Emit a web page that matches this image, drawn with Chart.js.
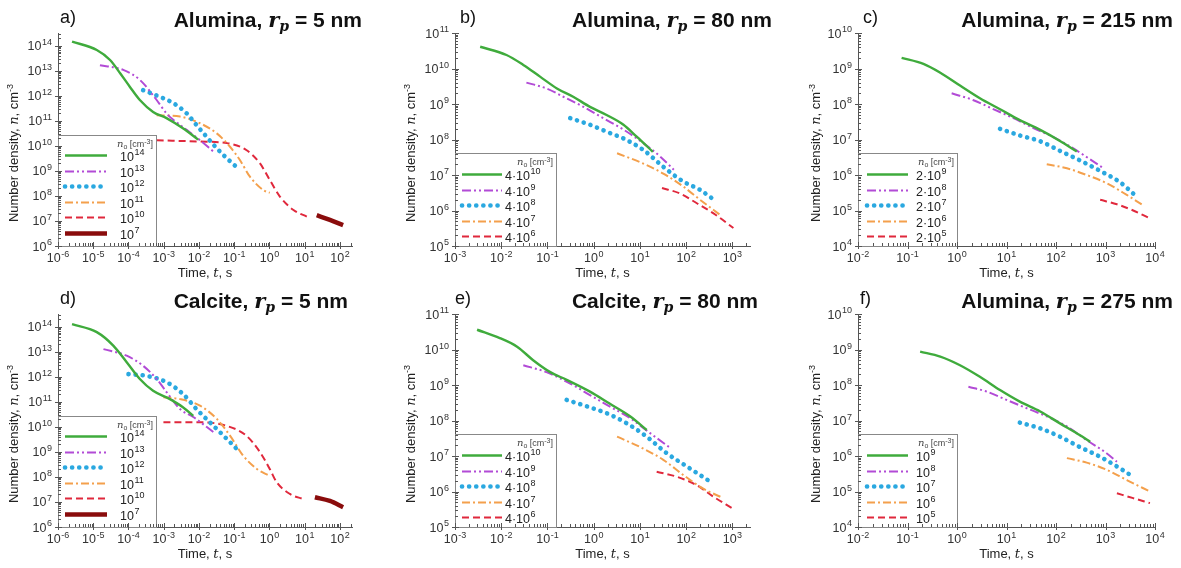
<!DOCTYPE html>
<html lang="en">
<head>
<meta charset="UTF-8">
<title>Number density vs time</title>
<style>
  body { margin: 0; background: #fff; font-family: Arial, 'Liberation Sans', sans-serif; }
  #fig { position: relative; width: 1181px; height: 568px; overflow: hidden; background: #fff; }
  #fig canvas { position: absolute; }
  .tag { position: absolute; font-size: 18px; color: #111; z-index: 2; line-height: 20px; }
  .ttl { position: absolute; font-size: 21px; font-weight: bold; color: #111; white-space: nowrap; z-index: 2; line-height: 24px; }
  .ttl i { font-family: 'DejaVu Serif', 'Liberation Serif', serif; font-style: italic; }
  .ttl sub { font-size: 14px; vertical-align: -4px; line-height: 0; }
</style>
</head>
<body>
<div id="fig">
  <div class="tag" style="left:60px;top:7px">a)</div>
  <div class="ttl" style="right:819px;top:8px">Alumina, <i>r<sub>p</sub></i> = 5 nm</div>
  <div class="tag" style="left:460px;top:7px">b)</div>
  <div class="ttl" style="right:409px;top:8px">Alumina, <i>r<sub>p</sub></i> = 80 nm</div>
  <div class="tag" style="left:863px;top:7px">c)</div>
  <div class="ttl" style="right:8px;top:8px">Alumina, <i>r<sub>p</sub></i> = 215 nm</div>
  <div class="tag" style="left:60px;top:288px">d)</div>
  <div class="ttl" style="right:833px;top:289px">Calcite, <i>r<sub>p</sub></i> = 5 nm</div>
  <div class="tag" style="left:455px;top:288px">e)</div>
  <div class="ttl" style="right:423px;top:289px">Calcite, <i>r<sub>p</sub></i> = 80 nm</div>
  <div class="tag" style="left:860px;top:288px">f)</div>
  <div class="ttl" style="right:8px;top:289px">Alumina, <i>r<sub>p</sub></i> = 275 nm</div>
</div>

<script src="https://cdn.jsdelivr.net/npm/chart.js"></script>
<script>
  // ---- data: time t [s] and number density n [cm^-3] ----

  // a) Alumina, rp = 5 nm
  const a_t1 = [2.5e-6, 1.26e-5, 3.0e-5, 5.8e-5, 1.1e-4, 2.1e-4, 5.0e-4, 1.2e-3, 3.5e-3, 9.5e-3];
  const a_n1 = [1.5e14, 6.9e13, 2.75e13, 8.1e12, 2.3e12, 6.9e11, 2.3e11, 1.3e11, 5.1e10, 1.8e10];
  const a_t2 = [1.55e-5, 7.1e-5, 2.1e-4, 6.3e-4, 1.2e-3, 1.9e-3, 4.5e-3, 1.07e-2, 2.6e-2];
  const a_n2 = [1.7e13, 1.1e13, 4.4e12, 6.9e11, 2.0e11, 1.1e11, 4.4e10, 1.7e10, 5.9e9];
  const a_t3 = [2.6e-4, 7.8e-4, 1.9e-3, 4.5e-3, 8.5e-3, 1.66e-2, 3.2e-2, 6.2e-2, 0.145];
  const a_n3 = [1.7e12, 9.3e11, 5.1e11, 2.0e11, 6.9e10, 2.3e10, 8.1e9, 3.2e9, 1.1e9];
  const a_t4 = [6.3e-4, 2.9e-3, 1.07e-2, 3.2e-2, 7.6e-2, 0.145, 0.28, 0.68, 1.02];
  const a_n4 = [1.7e11, 1.5e11, 8.1e10, 3.2e10, 9.3e9, 2.75e9, 5.9e8, 1.7e8, 1.35e8];
  const a_t5 = [6.3e-4, 1.07e-2, 6.2e-2, 0.22, 0.54, 1.02, 2.0, 4.8, 11.5];
  const a_n5 = [1.7e10, 1.5e10, 1.3e10, 6.9e9, 2.0e9, 4.4e8, 9.3e7, 2.75e7, 1.5e7];
  const a_t6 = [22, 52, 123];
  const a_n6 = [1.7e7, 1.1e7, 6.9e6];

  // b) Alumina, rp = 80 nm
  const b_t1 = [3.5e-3, 1.3e-2, 3.0e-2, 6.9e-2, 0.16, 0.36, 0.83, 1.9, 4.4, 8.5, 19];
  const b_n1 = [4.1e10, 2.4e10, 1.26e10, 5.9e9, 2.75e9, 1.6e9, 8.3e8, 4.9e8, 2.6e8, 1.2e8, 4.5e7];
  const b_t2 = [3.5e-2, 9.5e-2, 0.22, 0.60, 1.6, 4.4, 12, 27.5, 54];
  const b_n2 = [4.0e9, 2.75e9, 1.6e9, 8.3e8, 4.0e8, 1.9e8, 7.8e7, 3.3e7, 1.4e7];
  const b_t3 = [0.31, 0.83, 1.9, 4.4, 12, 32, 87, 200, 363];
  const b_n3 = [4.0e8, 2.6e8, 1.66e8, 1.07e8, 5.0e7, 1.7e7, 6.5e6, 3.8e6, 2.2e6];
  const b_t4 = [3.2, 10, 32, 87, 200, 550];
  const b_n4 = [4.1e7, 2.3e7, 1.1e7, 4.7e6, 2.0e6, 7.4e5];
  const b_t5 = [30, 74, 170, 390, 1050];
  const b_n5 = [4.3e6, 3.0e6, 1.6e6, 8.3e5, 3.2e5];

  // c) Alumina, rp = 215 nm
  const c_t1 = [0.076, 0.21, 0.46, 1.15, 2.9, 7.4, 18.6, 48, 120, 263];
  const c_n1 = [2.0e9, 1.35e9, 7.6e8, 3.3e8, 1.45e8, 7.1e7, 3.5e7, 1.86e7, 9.1e6, 4.6e6];
  const c_t2 = [0.78, 2.1, 5.4, 13.8, 35, 89, 224, 490, 910];
  const c_n2 = [2.0e8, 1.3e8, 7.2e7, 4.0e7, 2.1e7, 1.17e7, 5.6e6, 2.75e6, 1.55e6];
  const c_t3 = [7.4, 18.6, 48, 120, 300, 780, 1950, 3630];
  const c_n3 = [2.0e7, 1.3e7, 8.9e6, 4.8e6, 2.6e6, 1.3e6, 6.3e5, 3.0e5];
  const c_t4 = [65, 166, 417, 1050, 2690, 5750];
  const c_n4 = [2.0e6, 1.55e6, 1.0e6, 5.9e5, 2.75e5, 1.4e5];
  const c_t5 = [780, 1700, 3630, 7900];
  const c_n5 = [2.0e5, 1.5e5, 1.0e5, 6.0e4];

  // d) Calcite, rp = 5 nm
  const d_t1 = [2.5e-6, 1.26e-5, 3.7e-5, 8.9e-5, 2.1e-4, 5.0e-4, 1.5e-3, 3.5e-3, 6.9e-3];
  const d_n1 = [1.3e14, 6.2e13, 1.8e13, 3.9e12, 8.3e11, 2.8e11, 1.3e11, 6.2e10, 2.8e10];
  const d_t2 = [1.95e-5, 8.9e-5, 2.6e-4, 6.3e-4, 1.2e-3, 2.9e-3, 6.9e-3, 2.6e-2];
  const d_n2 = [1.3e13, 7.1e12, 2.8e12, 8.3e11, 2.5e11, 5.2e10, 2.5e10, 6.2e9];
  const d_t3 = [1.0e-4, 3.3e-4, 1.2e-3, 3.5e-3, 8.5e-3, 2.6e-2, 6.2e-2, 0.145];
  const d_n3 = [1.3e12, 1.1e12, 6.2e11, 2.1e11, 5.2e10, 1.1e10, 3.3e9, 9.8e8];
  const d_t4 = [9.8e-4, 2.9e-3, 1.07e-2, 3.2e-2, 7.6e-2, 0.18, 0.44, 1.02];
  const d_n4 = [1.55e11, 1.3e11, 7.1e10, 2.1e10, 4.5e9, 7.1e8, 2.1e8, 1.1e8];
  const d_t5 = [9.8e-4, 1.07e-2, 6.2e-2, 0.22, 0.54, 1.02, 1.6, 3.8, 9.1];
  const d_n5 = [1.55e10, 1.55e10, 1.1e10, 4.5e9, 9.8e8, 2.1e8, 6.2e7, 2.1e7, 1.3e7];
  const d_t6 = [19.5, 52, 123];
  const d_n6 = [1.55e7, 1.1e7, 6.2e6];

  // e) Calcite, rp = 80 nm
  const e_t1 = [3.0e-3, 9.3e-3, 2.2e-2, 4.9e-2, 0.115, 0.26, 0.83, 2.2, 6.2, 14];
  const e_n1 = [3.6e10, 2.1e10, 1.2e10, 5.0e9, 2.3e9, 1.4e9, 6.5e8, 3.0e8, 1.3e8, 5.4e7];
  const e_t2 = [3.0e-2, 9.5e-2, 0.31, 0.83, 2.2, 6.2, 16.6, 45];
  const e_n2 = [3.6e9, 2.3e9, 1.1e9, 5.2e8, 2.5e8, 1.15e8, 4.4e7, 1.7e7];
  const e_t3 = [0.26, 0.71, 1.9, 5.2, 14, 38, 105, 200, 330];
  const e_n3 = [3.8e8, 2.5e8, 1.6e8, 8.3e7, 3.5e7, 1.2e7, 5.0e6, 2.9e6, 1.9e6];
  const e_t4 = [3.2, 10, 32, 87, 234, 550];
  const e_n4 = [3.5e7, 1.8e7, 7.8e6, 2.9e6, 1.2e6, 7.1e5];
  const e_t5 = [23, 63, 170, 390, 980];
  const e_n5 = [3.6e6, 2.6e6, 1.5e6, 7.1e5, 3.4e5];

  // f) Alumina, rp = 275 nm
  const f_t1 = [0.18, 0.46, 1.15, 2.9, 7.4, 18.6, 48, 120, 300, 490];
  const f_n1 = [8.7e8, 6.3e8, 3.6e8, 1.7e8, 7.2e7, 3.4e7, 1.8e7, 8.3e6, 3.9e6, 2.5e6];
  const f_t2 = [1.7, 4.0, 10, 26, 65, 166, 417, 1050, 1700];
  const f_n2 = [8.9e7, 6.5e7, 3.8e7, 2.2e7, 1.3e7, 6.8e6, 2.8e6, 1.2e6, 6.9e5];
  const f_t3 = [18.6, 48, 120, 300, 780, 1950, 3630];
  const f_n3 = [8.7e6, 6.0e6, 3.5e6, 1.8e6, 9.5e5, 4.5e5, 2.6e5];
  const f_t4 = [166, 417, 1050, 2690, 7900];
  const f_n4 = [8.7e5, 6.5e5, 4.1e5, 2.1e5, 1.0e5];
  const f_t5 = [1700, 3630, 7900];
  const f_n5 = [8.9e4, 6.5e4, 4.7e4];

  // legend labels (initial number density n0), '^' marks the exponent
  const labels5nm = ['10^14', '10^13', '10^12', '10^11', '10^10', '10^7'];
  const labels80nm = ['4·10^10', '4·10^9', '4·10^8', '4·10^7', '4·10^6'];
  const labels215nm = ['2·10^9', '2·10^8', '2·10^7', '2·10^6', '2·10^5'];
  const labels275nm = ['10^9', '10^8', '10^7', '10^6', '10^5'];

  // decade tick values
  const xTicks5nm = [1e-6, 1e-5, 1e-4, 1e-3, 1e-2, 1e-1, 1e0, 1e1, 1e2];
  const yTicks5nm = [1e6, 1e7, 1e8, 1e9, 1e10, 1e11, 1e12, 1e13, 1e14];
  const xTicks80nm = [1e-3, 1e-2, 1e-1, 1e0, 1e1, 1e2, 1e3];
  const yTicks80nm = [1e5, 1e6, 1e7, 1e8, 1e9, 1e10, 1e11];
  const xTicksBig = [1e-2, 1e-1, 1e0, 1e1, 1e2, 1e3, 1e4];
  const yTicksBig = [1e4, 1e5, 1e6, 1e7, 1e8, 1e9, 1e10];

  // ---- styling ----
  const FONT = "Arial, 'Liberation Sans', sans-serif";
  const SERIF = "'DejaVu Serif', 'Liberation Serif', serif";
  const LINE_STYLES = [
    { borderColor: '#3fab3c', borderWidth: 2.4, borderDash: [] },
    { borderColor: '#b24bd6', borderWidth: 2, borderDash: [9, 3, 2, 3, 2, 3] },
    { borderColor: '#2aa8e0', borderWidth: 4.6, borderDash: [0.1, 7], borderCapStyle: 'round' },
    { borderColor: '#f4a04c', borderWidth: 2, borderDash: [8, 3, 2, 3] },
    { borderColor: '#e0283c', borderWidth: 2, borderDash: [7, 4] },
    { borderColor: '#8a0c0c', borderWidth: 4.5, borderDash: [] }
  ];

  function pow10Text(v) {
    return '10^' + Math.round(Math.log10(v));
  }

  // draws 'base^exp' with a raised smaller exponent; y is the baseline
  function drawPow(ctx, text, x, y, align, size) {
    const [base, exp] = text.split('^');
    const fBase = size + 'px ' + FONT;
    const fExp = Math.round(size * 0.7) + 'px ' + FONT;
    ctx.font = fBase;
    const wb = ctx.measureText(base).width;
    ctx.font = fExp;
    const we = exp ? ctx.measureText(exp).width + 0.5 : 0;
    const total = wb + we;
    const x0 = align === 'right' ? x - total : align === 'center' ? x - total / 2 : x;
    ctx.textAlign = 'left';
    ctx.textBaseline = 'alphabetic';
    ctx.font = fBase;
    ctx.fillText(base, x0, y);
    if (exp) {
      ctx.font = fExp;
      ctx.fillText(exp, x0 + wb + 0.5, y - size * 0.42);
    }
  }

  // text made of runs with their own font and vertical shift
  function richWidth(ctx, parts) {
    let w = 0;
    parts.forEach(p => { ctx.font = p.f; w += ctx.measureText(p.t).width; });
    return w;
  }
  function drawRich(ctx, parts, x, y) {
    ctx.textAlign = 'left';
    ctx.textBaseline = 'alphabetic';
    parts.forEach(p => {
      ctx.font = p.f;
      ctx.fillText(p.t, x, y + (p.dy || 0));
      x += ctx.measureText(p.t).width;
    });
  }

  const Y_TITLE = [
    { t: 'Number density, ', f: '13px ' + FONT },
    { t: 'n', f: 'italic 13px ' + SERIF },
    { t: ', cm', f: '13px ' + FONT },
    { t: '-3', f: '9px ' + FONT, dy: -5 }
  ];
  const X_TITLE = [
    { t: 'Time, ', f: '13px ' + FONT },
    { t: 't', f: 'italic 13px ' + SERIF },
    { t: ', s', f: '13px ' + FONT }
  ];
  const LEGEND_TITLE = [
    { t: 'n', f: 'italic 10px ' + SERIF },
    { t: 'o', f: '7px ' + FONT, dy: 2 },
    { t: ' [cm', f: '9px ' + FONT },
    { t: '-3', f: '7px ' + FONT, dy: -3 },
    { t: ']', f: '9px ' + FONT }
  ];

  // tick marks, decade labels and axis titles
  const logAxes = {
    id: 'logAxes',
    afterDraw(chart, args, opts) {
      const { ctx, chartArea } = chart;
      const sx = chart.scales.x, sy = chart.scales.y;
      ctx.save();
      ctx.strokeStyle = '#555';
      ctx.lineWidth = 1;
      [sx, sy].forEach(s => {
        const lo = Math.floor(Math.log10(s.min));
        const hi = Math.ceil(Math.log10(s.max));
        for (let e = lo; e <= hi; e++) {
          for (let m = 1; m < 10; m++) {
            const v = m * Math.pow(10, e);
            if (v < s.min * 0.999 || v > s.max * 1.001) continue;
            const inner = m === 1 ? 4 : 3;
            const outer = m === 1 ? 3 : 0;
            const p = Math.round(s.getPixelForValue(v)) + 0.5;
            ctx.beginPath();
            if (s === sx) {
              ctx.moveTo(p, chartArea.bottom + outer);
              ctx.lineTo(p, chartArea.bottom - inner);
            } else {
              ctx.moveTo(chartArea.left - outer, p);
              ctx.lineTo(chartArea.left + inner, p);
            }
            ctx.stroke();
          }
        }
      });

      ctx.fillStyle = '#333';
      sx.ticks.forEach(t => {
        drawPow(ctx, pow10Text(t.value), sx.getPixelForValue(t.value), chartArea.bottom + 16, 'center', 12.5);
      });
      sy.ticks.forEach(t => {
        drawPow(ctx, pow10Text(t.value), chartArea.left - 6, sy.getPixelForValue(t.value) + 4.5, 'right', 12.5);
      });

      ctx.fillStyle = '#222';
      const xw = richWidth(ctx, X_TITLE);
      drawRich(ctx, X_TITLE, (chartArea.left + chartArea.right) / 2 - xw / 2, 277);

      const yw = richWidth(ctx, Y_TITLE);
      ctx.translate(opts.yTitleX, 153);
      ctx.rotate(-Math.PI / 2);
      drawRich(ctx, Y_TITLE, -yw / 2, 4.5);
      ctx.restore();
    }
  };

  // boxed legend sitting in the lower-left corner of the plot area
  const insetLegend = {
    id: 'insetLegend',
    afterDatasetsDraw(chart, args, opts) {
      const { ctx, chartArea } = chart;
      const x0 = chartArea.left;
      const y0 = chartArea.bottom - opts.height;
      ctx.save();
      ctx.fillStyle = '#fff';
      ctx.fillRect(x0, y0, opts.width, opts.height);
      ctx.strokeStyle = '#888';
      ctx.lineWidth = 1;
      ctx.strokeRect(x0 + 0.5, y0 + 0.5, opts.width, opts.height);

      ctx.fillStyle = '#444';
      const tw = richWidth(ctx, LEGEND_TITLE);
      drawRich(ctx, LEGEND_TITLE, x0 + opts.width - 3 - tw, y0 + 12);

      chart.data.datasets.forEach((ds, i) => {
        const y = Math.round(y0 + opts.first + i * opts.step) + 0.5;
        ctx.strokeStyle = ds.borderColor;
        ctx.lineWidth = ds.borderWidth;
        ctx.setLineDash(ds.borderDash || []);
        ctx.lineCap = ds.borderCapStyle || 'butt';
        ctx.beginPath();
        ctx.moveTo(x0 + opts.lineFrom, y);
        ctx.lineTo(x0 + opts.lineTo, y);
        ctx.stroke();
        ctx.setLineDash([]);
        ctx.fillStyle = '#222';
        drawPow(ctx, ds.label, x0 + opts.textX, y + 5, 'left', 12.5);
      });
      ctx.restore();
    }
  };

  const panels = [
    { left: 0, top: 0, w: 390, padL: 2, yW: 56, padR: 38, yTitleX: 13,
      xMin: 1e-6, xMax: 2.2e2, yMin: 1e6, yMax: 3.3e14, xTicks: xTicks5nm, yTicks: yTicks5nm,
      series: [[a_t1, a_n1], [a_t2, a_n2], [a_t3, a_n3], [a_t4, a_n4], [a_t5, a_n5], [a_t6, a_n6]],
      labels: labels5nm,
      legend: { width: 98, height: 111, first: 20, step: 15.5, lineFrom: 7, lineTo: 49, textX: 62 } },
    { left: 390, top: 0, w: 390, padL: 8, yW: 57, padR: 30, yTitleX: 20,
      xMin: 1e-3, xMax: 2.4e3, yMin: 1e5, yMax: 1e11, xTicks: xTicks80nm, yTicks: yTicks80nm,
      series: [[b_t1, b_n1], [b_t2, b_n2], [b_t3, b_n3], [b_t4, b_n4], [b_t5, b_n5]],
      labels: labels80nm,
      legend: { width: 101, height: 93, first: 21, step: 15.5, lineFrom: 7, lineTo: 47, textX: 50 } },
    { left: 780, top: 0, w: 401, padL: 24, yW: 54, padR: 26, yTitleX: 35,
      xMin: 1e-2, xMax: 1e4, yMin: 1e4, yMax: 1e10, xTicks: xTicksBig, yTicks: yTicksBig,
      series: [[c_t1, c_n1], [c_t2, c_n2], [c_t3, c_n3], [c_t4, c_n4], [c_t5, c_n5]],
      labels: labels215nm,
      legend: { width: 99, height: 93, first: 21, step: 15.5, lineFrom: 9, lineTo: 50, textX: 58 } },
    { left: 0, top: 281, w: 390, padL: 2, yW: 56, padR: 38, yTitleX: 13,
      xMin: 1e-6, xMax: 2.2e2, yMin: 1e6, yMax: 3.3e14, xTicks: xTicks5nm, yTicks: yTicks5nm,
      series: [[d_t1, d_n1], [d_t2, d_n2], [d_t3, d_n3], [d_t4, d_n4], [d_t5, d_n5], [d_t6, d_n6]],
      labels: labels5nm,
      legend: { width: 98, height: 111, first: 20, step: 15.5, lineFrom: 7, lineTo: 49, textX: 62 } },
    { left: 390, top: 281, w: 390, padL: 8, yW: 57, padR: 30, yTitleX: 20,
      xMin: 1e-3, xMax: 2.4e3, yMin: 1e5, yMax: 1e11, xTicks: xTicks80nm, yTicks: yTicks80nm,
      series: [[e_t1, e_n1], [e_t2, e_n2], [e_t3, e_n3], [e_t4, e_n4], [e_t5, e_n5]],
      labels: labels80nm,
      legend: { width: 101, height: 93, first: 21, step: 15.5, lineFrom: 7, lineTo: 47, textX: 50 } },
    { left: 780, top: 281, w: 401, padL: 24, yW: 54, padR: 26, yTitleX: 35,
      xMin: 1e-2, xMax: 1e4, yMin: 1e4, yMax: 1e10, xTicks: xTicksBig, yTicks: yTicksBig,
      series: [[f_t1, f_n1], [f_t2, f_n2], [f_t3, f_n3], [f_t4, f_n4], [f_t5, f_n5]],
      labels: labels275nm,
      legend: { width: 99, height: 93, first: 21, step: 15.5, lineFrom: 9, lineTo: 50, textX: 58 } }
  ];

  function makePanel(p) {
    const cv = document.createElement('canvas');
    cv.width = p.w;
    cv.height = 284;
    cv.style.left = p.left + 'px';
    cv.style.top = p.top + 'px';
    document.getElementById('fig').appendChild(cv);

    const datasets = p.series.map((s, i) => Object.assign({
      label: p.labels[i],
      data: s[0].map((t, k) => ({ x: t, y: s[1][k] })),
      showLine: true,
      pointRadius: 0,
      fill: false,
      cubicInterpolationMode: 'monotone'
    }, LINE_STYLES[i]));

    new Chart(cv, {
      type: 'scatter',
      data: { datasets },
      plugins: [logAxes, insetLegend],
      options: {
        responsive: false,
        animation: false,
        devicePixelRatio: 1,
        layout: { padding: { left: p.padL, right: p.padR, top: 33, bottom: 0 } },
        plugins: {
          legend: { display: false },
          tooltip: { enabled: false },
          logAxes: { yTitleX: p.yTitleX },
          insetLegend: p.legend
        },
        scales: {
          x: {
            type: 'logarithmic',
            bounds: 'data',
            min: p.xMin,
            max: p.xMax,
            afterBuildTicks: s => { s.ticks = p.xTicks.map(v => ({ value: v })); },
            afterFit: s => { s.height = 38; },
            ticks: { display: false, autoSkip: false },
            grid: { drawOnChartArea: false, drawTicks: false },
            border: { display: true, color: '#555', width: 1 }
          },
          y: {
            type: 'logarithmic',
            bounds: 'data',
            min: p.yMin,
            max: p.yMax,
            afterBuildTicks: s => { s.ticks = p.yTicks.map(v => ({ value: v })); },
            afterFit: s => { s.width = p.yW; },
            ticks: { display: false, autoSkip: false },
            grid: { drawOnChartArea: false, drawTicks: false },
            border: { display: true, color: '#555', width: 1 }
          }
        }
      }
    });
  }

  panels.forEach(makePanel);
</script>
</body>
</html>
